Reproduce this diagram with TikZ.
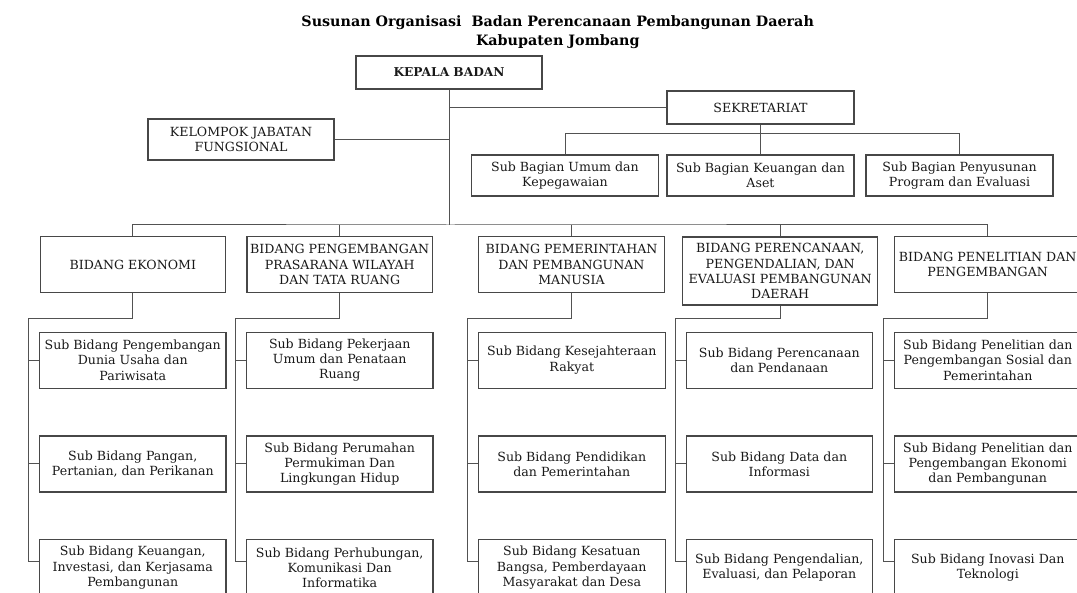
\documentclass[tikz,border=0pt]{standalone}
\usepackage{fontspec}
\setmainfont{DejaVu Serif}
\begin{document}
\begin{tikzpicture}[x=1pt,y=-1pt,
  box/.style={draw=black!72, line width=1.1pt, align=center, inner sep=0pt,
    font=\fontsize{12.6}{15.3}\selectfont, text=black!90},
  subbox/.style={box, minimum width=186.5pt, minimum height=56pt},
  bidbox/.style={box, minimum height=56pt},
  conn/.style={draw=black!68, line width=1pt},
  ttl/.style={font=\fontsize{14.3}{17}\selectfont\bfseries, inner sep=0pt}]
\useasboundingbox (0,0) rectangle (1077,593);
\clip (0,0) rectangle (1077,593);
% title
\node[ttl] (t1) at (557.7,22.7) {Susunan Organisasi~~Badan Perencanaan Pembangunan Daerah};
\node[ttl] (t2) at (557.8,41.7) {Kabupaten Jombang};
% top
\node[box, minimum width=186pt, minimum height=33pt, font=\fontsize{12.2}{15.3}\selectfont\bfseries] (kep) at (449,72.5) {KEPALA BADAN};
\node[box, minimum width=187pt, minimum height=33pt] (sek) at (760.5,107.5) {SEKRETARIAT};
\node[box, minimum width=186pt, minimum height=41pt] (kjf) at (241,139.5) {KELOMPOK JABATAN\\FUNGSIONAL};
\node[box, minimum width=187pt, minimum height=41pt] (sb1) at (565,175.5) {Sub Bagian Umum dan\\Kepegawaian};
\node[box, minimum width=187pt, minimum height=41pt] (sb2) at (760.5,175.5) {Sub Bagian Keuangan dan\\Aset};
\node[box, minimum width=187pt, minimum height=41pt] (sb3) at (959.5,175.5) {Sub Bagian Penyusunan\\Program dan Evaluasi};
% bidang
\node[bidbox, minimum width=185.5pt] (b1) at (132.8,264.5) {BIDANG EKONOMI};
\node[bidbox, minimum width=185.5pt] (b2) at (339.7,264.5) {BIDANG PENGEMBANGAN\\PRASARANA WILAYAH\\DAN TATA RUANG};
\node[bidbox, minimum width=186.5pt] (b3) at (571.5,264.5) {BIDANG PEMERINTAHAN\\DAN PEMBANGUNAN\\MANUSIA};
\node[box, minimum width=195pt, minimum height=68pt] (b4) at (780.2,271) {BIDANG PERENCANAAN,\\PENGENDALIAN, DAN\\EVALUASI PEMBANGUNAN\\DAERAH};
\node[bidbox, minimum width=187pt] (b5) at (987.7,264.5) {BIDANG PENELITIAN DAN\\PENGEMBANGAN};
% sub bidang
\node[subbox] (s11) at (132.75,360.2) {Sub Bidang Pengembangan\\Dunia Usaha dan\\Pariwisata};
\node[subbox] (s12) at (132.75,464) {Sub Bidang Pangan,\\Pertanian, dan Perikanan};
\node[subbox] (s13) at (132.75,567.7) {Sub Bidang Keuangan,\\Investasi, dan Kerjasama\\Pembangunan};
\node[subbox] (s21) at (339.7,360.2) {Sub Bidang Pekerjaan\\Umum dan Penataan\\Ruang};
\node[subbox] (s22) at (339.7,464) {Sub Bidang Perumahan\\Permukiman Dan\\Lingkungan Hidup};
\node[subbox] (s23) at (339.7,567.7) {Sub Bidang Perhubungan,\\Komunikasi Dan\\Informatika};
\node[subbox] (s31) at (571.8,360.2) {Sub Bidang Kesejahteraan\\Rakyat};
\node[subbox] (s32) at (571.8,464) {Sub Bidang Pendidikan\\dan Pemerintahan};
\node[subbox] (s33) at (571.8,567.7) {Sub Bidang Kesatuan\\Bangsa, Pemberdayaan\\Masyarakat dan Desa};
\node[subbox] (s41) at (779.3,360.2) {Sub Bidang Perencanaan\\dan Pendanaan};
\node[subbox] (s42) at (779.3,464) {Sub Bidang Data dan\\Informasi};
\node[subbox] (s43) at (779.3,567.7) {Sub Bidang Pengendalian,\\Evaluasi, dan Pelaporan};
\node[subbox] (s51) at (987.8,360.2) {Sub Bidang Penelitian dan\\Pengembangan Sosial dan\\Pemerintahan};
\node[subbox] (s52) at (987.8,464) {Sub Bidang Penelitian dan\\Pengembangan Ekonomi\\dan Pembangunan};
\node[subbox] (s53) at (987.8,567.7) {Sub Bidang Inovasi Dan\\Teknologi};
% coordinates
\coordinate (bus) at (449.4,225);
\coordinate (sbus) at (760.5,133.3);
\coordinate (c1) at (28.9,318.3);
\coordinate (c2) at (235.9,318.3);
\coordinate (c3) at (467.3,318.3);
\coordinate (c4) at (675.3,318.3);
\coordinate (c5) at (883.7,318.3);
% connectors
\draw[conn] (kep.south) -- (kep.south |- bus);
\draw[conn] (kep.south |- sek.west) -- (sek.west);
\draw[conn] (kjf.east) -- (kep.south |- kjf.east);
\draw[conn] (sb1.north) |- (sbus) -| (sb3.north);
\draw[conn] (sek.south) -- (sb2.north);
\draw[conn] (b1.north) |- (bus) -| (b5.north);
\draw[conn] (b2.north) -- (b2.north |- bus);
\draw[conn] (b3.north) -- (b3.north |- bus);
\draw[conn] (b4.north) -- (b4.north |- bus);
\foreach \i in {1,...,5}{
  \draw[conn] (b\i.south) |- (c\i) |- ([yshift=6.4pt]s\i3.west);
  \draw[conn] (c\i |- s\i1.west) -- (s\i1.west);
  \draw[conn] (c\i |- s\i2.west) -- (s\i2.west);
}
\end{tikzpicture}
\end{document}
